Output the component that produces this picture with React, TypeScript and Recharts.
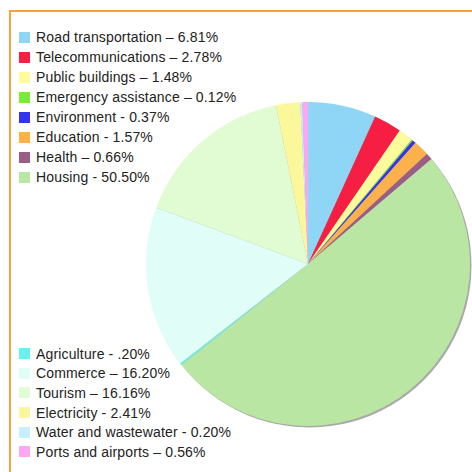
import { PieChart, Pie, Cell, Legend } from "recharts";

const names = [
  "Road transportation",
  "Telecommunications",
  "Public buildings",
  "Emergency assistance",
  "Environment",
  "Education",
  "Health",
  "Housing",
  "Agriculture",
  "Commerce",
  "Tourism",
  "Electricity",
  "Water and wastewater",
  "Ports and airports",
];
const shares = [6.81, 2.78, 1.48, 0.12, 0.37, 1.57, 0.66, 50.5, 0.2, 16.2, 16.16, 2.41, 0.2, 0.56];
const legendLabels = [
  "Road transportation – 6.81%",
  "Telecommunications – 2.78%",
  "Public buildings – 1.48%",
  "Emergency assistance – 0.12%",
  "Environment - 0.37%",
  "Education - 1.57%",
  "Health – 0.66%",
  "Housing - 50.50%",
  "Agriculture - .20%",
  "Commerce – 16.20%",
  "Tourism – 16.16%",
  "Electricity - 2.41%",
  "Water and wastewater - 0.20%",
  "Ports and airports – 0.56%",
];
const colors = [
  "#8fd6f6",
  "#f71e44",
  "#fdfb9c",
  "#79ec3a",
  "#3434ee",
  "#fdb14a",
  "#9a5e86",
  "#b9e6a2",
  "#6af0ee",
  "#e0fdf7",
  "#e1fcd2",
  "#fbf89c",
  "#c7f0fe",
  "#fda6f2",
];
const topGroup = 8;

const data = names.map((name, i) => ({ name, value: shares[i] }));
const shadow = [{ name: "shadow", value: 100 }];

function LegendBlock() {
  const row = (i: number, h: number) => (
    <div
      key={names[i]}
      style={{ display: "flex", alignItems: "center", height: h, whiteSpace: "nowrap" }}
    >
      <span style={{ width: 11, height: 11, background: colors[i], marginRight: 6, flexShrink: 0 }} />
      <span>{legendLabels[i]}</span>
    </div>
  );
  return (
    <>
      <div style={{ position: "absolute", left: 19, top: 27 }}>
        {names.slice(0, topGroup).map((_, i) => row(i, 20))}
      </div>
      <div style={{ position: "absolute", left: 19, top: 344 }}>
        {names.slice(topGroup).map((_, i) => row(i + topGroup, 19.6))}
      </div>
    </>
  );
}

export default function App() {
  return (
    <div
      style={{
        position: "absolute",
        left: 0,
        top: 0,
        width: 472,
        height: 472,
        overflow: "hidden",
        background: "#fff",
        fontFamily: "'Liberation Sans', Arial, sans-serif",
        fontSize: 14,
        letterSpacing: 0.15,
        color: "#222",
      }}
    >
      <div
        style={{
          position: "absolute",
          left: 9,
          top: 10,
          width: 480,
          height: 480,
          border: "2px solid #f7a13f",
          boxSizing: "border-box",
        }}
      />
      <div style={{ position: "absolute", left: 0, top: 0 }}>
        <PieChart width={472} height={472}>
          <Pie
            data={shadow}
            dataKey="value"
            cx={304.5}
            cy={260.5}
            outerRadius={162}
            fill="#a9a9a9"
            stroke="none"
            isAnimationActive={false}
          />
          <Pie
            data={data}
            dataKey="value"
            nameKey="name"
            cx={303}
            cy={259}
            outerRadius={162}
            startAngle={90}
            endAngle={-270}
            stroke="none"
            isAnimationActive={false}
          >
            {data.map((d, i) => (
              <Cell key={d.name} fill={colors[i]} />
            ))}
          </Pie>
          <Legend content={() => null} />
        </PieChart>
      </div>
      <LegendBlock />
    </div>
  );
}
